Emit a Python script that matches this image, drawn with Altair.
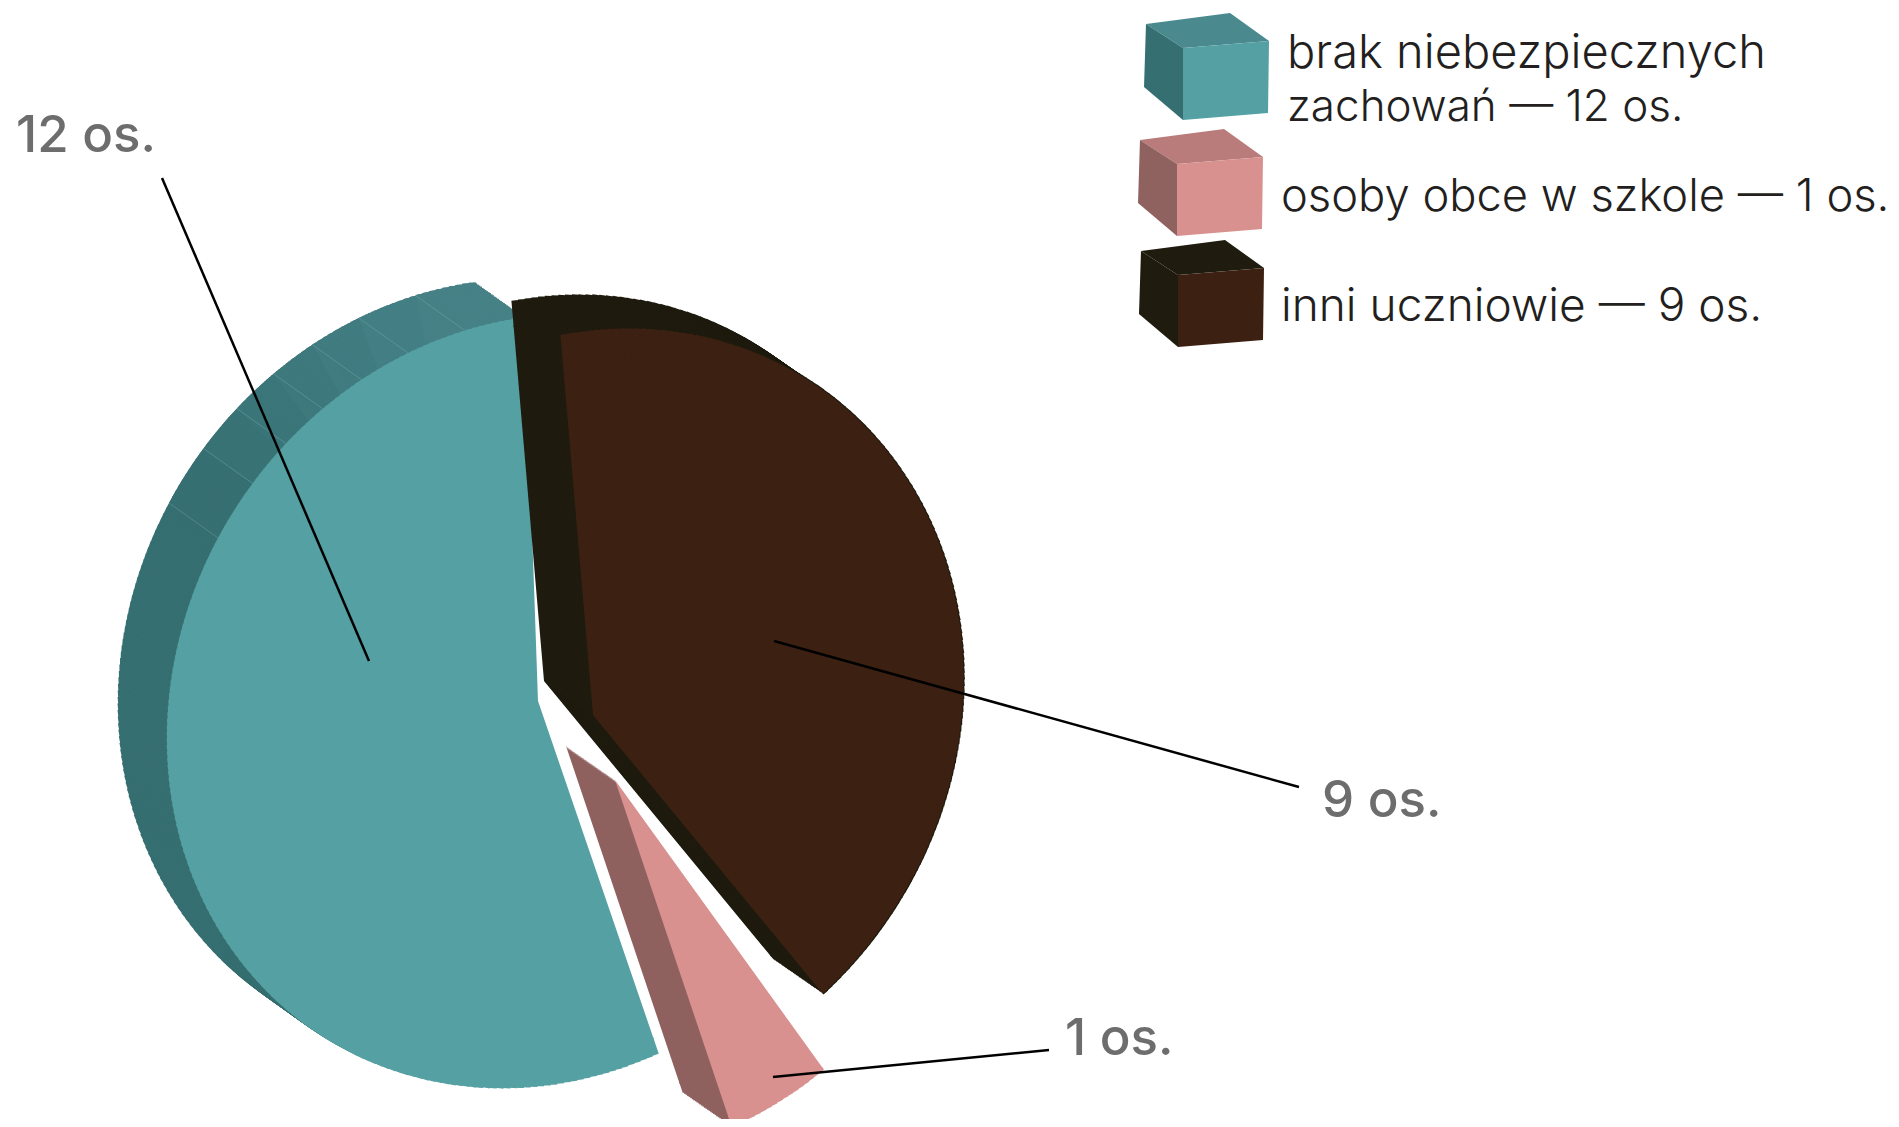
import math
import altair as alt
import pandas as pd

# ---- values
categories = ["inni uczniowie", "osoby obce w szkole", "brak niebezpiecznych zachowań"]
values = [9, 1, 12]
face_colors = ["#3c2113", "#d8918f", "#55a0a3"]
wall_colors = ["#1f1b0f", "#8f615f", "#366f71"]
top_colors = ["#1f1b0f", "#b97c7a", "#4a898e"]

legend_lines = ["brak niebezpiecznych", "zachowań — 12 os.", "osoby obce w szkole — 1 os.", "inni uczniowie — 9 os."]
legend_sizes = [47, 44, 45.3, 46]
value_labels = ["9 os.", "1 os.", "12 os."]

# facet seams on the back wall of the largest slice (degrees clockwise from north)
seam_deg = [297.0, 307.3, 315.6, 323.6, 331.2, 339.5, 348.8, 358.0]
seam_colors = ["#377073", "#397376", "#3b767a", "#3e797d", "#407c80", "#437f84", "#468186"]

# ---- layout
OX, OY = 8, 8
centers = [(593, 715), (615, 780), (538, 701)]
depths = [(-49, -34), (-49, -34), (-49, -35)]
slice_scale = [1.0, 0.985, 1.002]
STEPS = 32
WEDGE = 1.0  # degrees per radial facet of a slice
# the tilted view turns the round pie into an ellipse
AXIS_A, AXIS_B, AXIS_DEG = 398, 358, 33

# theta scale: projected pie with small breaks between slices
EPS = 0.001
slice_deg = [(-4.9, 140.5), (144.2, 161.4), (161.1, 358.0)]
theta_domain = [0, 9, 9 + EPS, 10, 10 + EPS, 22]
theta_range = [math.radians(d) for d in [-4.9, 140.5, 144.2, 161.4, 161.1, 358.0]]


def radius_at(deg, i):
    p = math.radians(deg - AXIS_DEG)
    return slice_scale[i] * AXIS_A * AXIS_B / math.hypot(AXIS_B * math.cos(p), AXIS_A * math.sin(p))


spans = []
cum = 0
for i, v in enumerate(values):
    spans.append((cum + (EPS if i else 0), cum + v))
    cum += v


def to_value(i, deg):
    a0, a1 = slice_deg[i]
    t0, t1 = spans[i]
    return t0 + (deg - a0) / (a1 - a0) * (t1 - t0)


def wedges(i, d0, d1):
    """Outer rim of slice i between two angles, in data units, each piece with its projected radius."""
    n = max(1, round((d1 - d0) / WEDGE))
    out = []
    for k in range(n):
        da = d0 + (d1 - d0) * k / n
        db = d0 + (d1 - d0) * (k + 1) / n
        ua = to_value(i, da)
        ub = min(to_value(i, db) + 0.012, to_value(i, d1))  # overlap hides hairlines
        out.append((round(ua, 4), round(ub, 4), round(radius_at((da + db) / 2, i), 1)))
    return out


rows = []


def add(i, d0, d1, col, dx, dy, extra=0):
    cx, cy = centers[i]
    x = round(cx + dx - OX, 1)
    y = round(cy + dy - OY, 1)
    w = wedges(i, d0, d1)
    rmin = min(p[2] for p in w) + extra
    for ua, ub, r in w:
        rows.append(dict(x=x, y=y, r=r + extra, r0=rmin - 3, t0=ua, t1=ub, c=col))
    rows.append(dict(x=x, y=y, r=rmin - 1, r0=0, t0=round(to_value(i, d0), 4), t1=round(to_value(i, d1), 4), c=col))


for i in [2, 0, 1]:
    a0, a1 = slice_deg[i]
    dx, dy = depths[i]
    pieces = [(a0, a1, wall_colors[i])]
    if i == 2:
        for k, col in enumerate(seam_colors):
            pieces.append((seam_deg[k], seam_deg[k + 1], col))
    for d0, d1, col in pieces:
        for s in range(STEPS, 0, -1):
            f = s / STEPS
            add(i, d0, d1, col, dx * f, dy * f)
    if i == 0:
        add(i, a0, a1, wall_colors[i], 0, 0, extra=1.2)
    add(i, a0, a1, face_colors[i], 0, 0)

theta_scale = alt.Scale(domain=theta_domain, range=theta_range)
arcs = alt.Chart(pd.DataFrame(rows)).mark_arc(strokeWidth=0).encode(
    x=alt.X("x:Q", scale=None),
    y=alt.Y("y:Q", scale=None),
    radius=alt.Radius("r:Q", scale=None),
    radius2=alt.Radius2("r0:Q"),
    theta=alt.Theta("t0:Q", scale=theta_scale),
    theta2=alt.Theta2("t1:Q"),
    color=alt.Color("c:N", scale=None),
)

# seams on the walls
seams = []
cx, cy = centers[2]
dx, dy = depths[2]
for a in seam_deg[:-1]:
    rr = radius_at(a, 2)
    sx = cx + rr * math.sin(math.radians(a)) - OX
    sy = cy - rr * math.cos(math.radians(a)) - OY
    seams.append(dict(x=sx, y=sy, x2=sx + dx, y2=sy + dy))
seam_chart = alt.Chart(pd.DataFrame(seams)).mark_rule(color="#7fb0b2", strokeWidth=0.5, opacity=0.8).encode(
    x=alt.X("x:Q", scale=None), y=alt.Y("y:Q", scale=None), x2="x2:Q", y2="y2:Q"
)

# leader lines
leaders = pd.DataFrame(
    [
        dict(x=162 - OX, y=178 - OY, x2=369 - OX, y2=661 - OY),
        dict(x=774 - OX, y=641 - OY, x2=1299 - OX, y2=787 - OY),
        dict(x=773 - OX, y=1077 - OY, x2=1049 - OX, y2=1050 - OY),
    ]
)
leader_chart = alt.Chart(leaders).mark_rule(color="#000000", strokeWidth=2.5).encode(
    x=alt.X("x:Q", scale=None), y=alt.Y("y:Q", scale=None), x2="x2:Q", y2="y2:Q"
)

# value labels
label_df = pd.DataFrame(
    [
        dict(t=value_labels[2], x=16 - OX, y=152 - OY),
        dict(t=value_labels[0], x=1322 - OX, y=817 - OY),
        dict(t=value_labels[1], x=1065 - OX, y=1055 - OY),
    ]
)
label_chart = alt.Chart(label_df).mark_text(
    font="Inter", fontSize=51, fontWeight=500, color="#6d6d6d", align="left", baseline="alphabetic"
).encode(x=alt.X("x:Q", scale=None), y=alt.Y("y:Q", scale=None), text="t:N")

# legend text
legend_df = pd.DataFrame(
    [
        dict(t=legend_lines[0], x=1287 - OX, y=68 - OY, s=legend_sizes[0]),
        dict(t=legend_lines[1], x=1287 - OX, y=121 - OY, s=legend_sizes[1]),
        dict(t=legend_lines[2], x=1281 - OX, y=211 - OY, s=legend_sizes[2]),
        dict(t=legend_lines[3], x=1281 - OX, y=321 - OY, s=legend_sizes[3]),
    ]
)
legend_text = alt.Chart(legend_df).mark_text(
    font="Inter", fontWeight=300, color="#231f20", align="left", baseline="alphabetic"
).encode(
    x=alt.X("x:Q", scale=None),
    y=alt.Y("y:Q", scale=None),
    text="t:N",
    size=alt.Size("s:Q", scale=None),
)

# legend cube glyphs
cube_top = "M-0.75,-0.525L0.3,-0.6625L0.7875,-0.3125L-0.2875,-0.225Z"
cube_left = "M-0.75,-0.525L-0.2875,-0.225L-0.2875,0.675L-0.775,0.2625Z"
cube_front = "M-0.2875,-0.225L0.7875,-0.3125L0.775,0.5875L-0.2875,0.675Z"
cube_centers = [(1201, 293), (1200, 182), (1206, 66)]
cubes = []
for i, (cx, cy) in enumerate(cube_centers):
    for shape, col in [(cube_top, top_colors[i]), (cube_left, wall_colors[i]), (cube_front, face_colors[i])]:
        cubes.append(
            alt.Chart(pd.DataFrame([dict(x=cx - OX, y=cy - OY)]))
            .mark_point(shape=shape, filled=True, size=160 * 160, color=col, opacity=1, strokeWidth=0)
            .encode(x=alt.X("x:Q", scale=None), y=alt.Y("y:Q", scale=None))
        )

chart = (
    alt.layer(arcs, seam_chart, leader_chart, label_chart, legend_text, *cubes)
    .properties(width=1883, height=1111, padding=0, background="#ffffff", autosize=alt.AutoSizeParams(type="none"))
    .configure_view(strokeWidth=0)
)
chart.save("out.html", embed_options={"renderer": "svg", "actions": False})
